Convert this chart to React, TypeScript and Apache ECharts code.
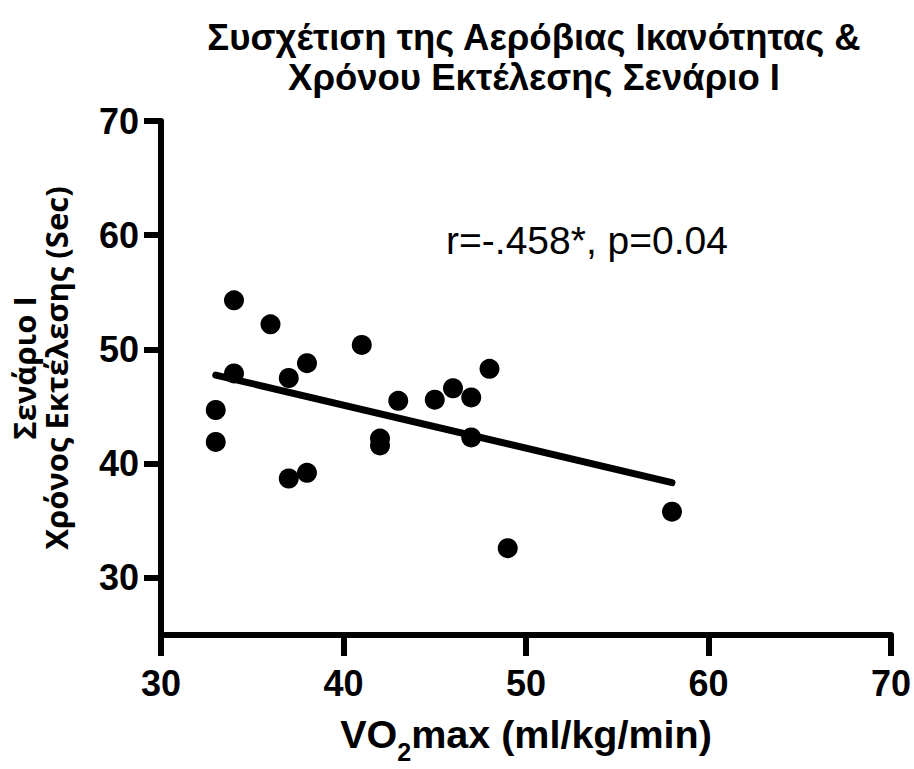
import React, { useEffect, useRef } from "react";
import * as echarts from "echarts";

// VO2max (ml/kg/min) and Scenario I execution time (sec)
const vo2max = [33, 33, 34, 34, 36, 37, 37, 38, 38, 41, 42, 42, 43, 45, 46, 47, 47, 48, 49, 58];
const execTime = [44.7, 41.9, 54.3, 47.9, 52.2, 47.5, 38.7, 48.8, 39.2, 50.4, 42.2, 41.6, 45.5, 45.6, 46.6, 45.8, 42.3, 48.3, 32.6, 35.8];
const xTicks = [30, 40, 50, 60, 70];
const yTicks = [30, 40, 50, 60, 70];

const titleLines = ["Συσχέτιση της Αερόβιας Ικανότητας &", "Χρόνου Εκτέλεσης Σενάριο I"];
const yNameLines = ["Σενάριο I", "Χρόνος Εκτέλεσης (Sec)"];
const annotation = "r=-.458*, p=0.04";

function linearFit(xs: number[], ys: number[]) {
  const n = xs.length;
  const mx = xs.reduce((a, b) => a + b, 0) / n;
  const my = ys.reduce((a, b) => a + b, 0) / n;
  let sxy = 0;
  let sxx = 0;
  for (let i = 0; i < n; i++) {
    sxy += (xs[i] - mx) * (ys[i] - my);
    sxx += (xs[i] - mx) * (xs[i] - mx);
  }
  const slope = sxy / sxx;
  return { slope, intercept: my - slope * mx };
}

export default function App() {
  const ref = useRef<HTMLDivElement>(null);
  useEffect(() => {
    if (!ref.current) return;
    const chart = echarts.init(ref.current, undefined, { renderer: "svg" });
    const fit = linearFit(vo2max, execTime);
    const xMin = Math.min(...vo2max);
    const xMax = Math.max(...vo2max);
    const fitLine = [
      [xMin, fit.intercept + fit.slope * xMin],
      [xMax, fit.intercept + fit.slope * xMax],
    ];
    const black = "#000";
    const tickFont = "Liberation Sans";
    chart.setOption({
      animation: false,
      backgroundColor: "#fff",
      grid: { left: 160, right: 22, top: 121, bottom: 132 },
      xAxis: {
        type: "value",
        min: xTicks[0],
        max: xTicks[xTicks.length - 1],
        interval: 10,
        splitLine: { show: false },
        axisLine: { show: true, lineStyle: { color: black, width: 6 } },
        axisTick: { show: true, length: 21, lineStyle: { color: black, width: 6 } },
        axisLabel: {
          show: true,
          showMinLabel: true,
          showMaxLabel: true,
          color: black,
          fontFamily: tickFont,
          fontWeight: "bold",
          fontSize: 36,
          margin: 30,
        },
        name: "{a|VO}{s|2}{a|max (ml/kg/min)}",
        nameLocation: "middle",
        nameGap: 79,
        nameTextStyle: {
          rich: {
            a: { fontFamily: tickFont, fontWeight: "bold", fontSize: 39.5, color: black, lineHeight: 50, verticalAlign: "top" },
            s: { fontFamily: tickFont, fontWeight: "bold", fontSize: 25, color: black, lineHeight: 16, verticalAlign: "bottom" },
          },
        },
      },
      yAxis: {
        type: "value",
        min: 25,
        max: 70,
        splitLine: { show: false },
        axisLine: { show: true, lineStyle: { color: black, width: 6 } },
        axisTick: { show: true, customValues: yTicks, length: 17, lineStyle: { color: black, width: 6 } },
        axisLabel: {
          show: true,
          customValues: yTicks,
          color: black,
          fontFamily: tickFont,
          fontWeight: "bold",
          fontSize: 36,
          margin: 22,
        },
        name: yNameLines.join("\n"),
        nameLocation: "middle",
        nameGap: 89,
        nameRotate: 90,
        nameTextStyle: {
          fontFamily: "Open Sans",
          fontWeight: "bold",
          fontSize: 31,
          lineHeight: 32,
          color: black,
          align: "center",
          padding: [0, 0, 0, 20],
        },
      },
      graphic: [
        {
          type: "text",
          x: 534,
          y: 17,
          style: {
            text: titleLines.join("\n"),
            fill: black,
            fontFamily: tickFont,
            fontWeight: "bold",
            fontSize: 36.5,
            lineHeight: 40,
            align: "center",
            textAlign: "center",
            verticalAlign: "top",
            textVerticalAlign: "top",
          },
        },
        {
          type: "text",
          x: 587,
          y: 240,
          style: {
            text: annotation,
            fill: black,
            fontFamily: tickFont,
            fontSize: 39,
            align: "center",
            textAlign: "center",
            verticalAlign: "middle",
            textVerticalAlign: "middle",
          },
        },
      ],
      series: [
        {
          type: "scatter",
          data: vo2max.map((x, i) => [x, execTime[i]]),
          symbol: "circle",
          symbolSize: 20,
          itemStyle: { color: black, opacity: 1 },
          z: 3,
        },
        {
          type: "line",
          data: fitLine,
          showSymbol: false,
          symbol: "none",
          lineStyle: { color: black, width: 7, cap: "round" },
          z: 2,
        },
      ],
    });
    return () => chart.dispose();
  }, []);
  return <div ref={ref} style={{ width: 914, height: 769, position: "absolute", left: 0, top: 0 }} />;
}
